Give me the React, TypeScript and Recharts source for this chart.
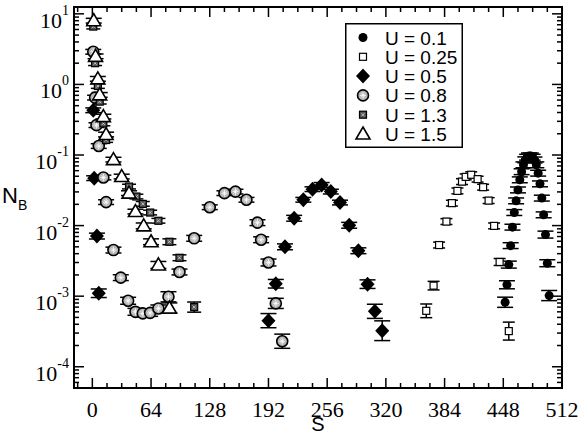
import React from 'react'
import { ScatterChart, Scatter, XAxis, YAxis, ErrorBar, Legend, ReferenceArea } from 'recharts'

// S values, N_B values and relative error (%) per series
const S_U01 = [450, 452, 454, 456, 458, 460, 462, 464, 466, 468, 470, 472, 474, 476, 478, 480, 482, 484, 486, 488, 490, 492, 494, 496, 498]
const N_U01 = [0.00082, 0.00145, 0.0028, 0.0052, 0.0095, 0.0153, 0.0224, 0.032, 0.0445, 0.058, 0.0726, 0.0855, 0.093, 0.097, 0.097, 0.093, 0.085, 0.0726, 0.0553, 0.039, 0.0245, 0.0142, 0.00745, 0.00293, 0.00102]
const E_U01 = [18, 14, 12, 10, 10, 10, 10, 10, 10, 10, 10, 10, 10, 10, 10, 10, 10, 10, 10, 10, 10, 10, 12, 12, 18]

const S_U025 = [364, 372, 378, 386, 392, 398, 403, 407, 413, 420, 426, 432, 438, 444, 454]
const N_U025 = [0.00062, 0.00141, 0.0053, 0.0114, 0.0208, 0.031, 0.042, 0.049, 0.0525, 0.0455, 0.035, 0.0226, 0.0099, 0.00305, 0.00032]
const E_U025 = [25, 15, 10, 10, 10, 10, 10, 10, 10, 10, 10, 10, 10, 12, 34]

const S_U05 = [1, 2, 5, 7, 192, 200, 210, 220, 230, 240, 250, 260, 270, 280, 290, 300, 308, 316]
const N_U05 = [0.43, 0.047, 0.0071, 0.0011, 0.00045, 0.0015, 0.005, 0.0127, 0.0232, 0.0328, 0.0377, 0.0303, 0.0212, 0.0101, 0.0044, 0.00148, 0.00061, 0.000324]
const E_U05 = [8, 8, 10, 15, 26, 15, 10, 10, 8, 8, 8, 8, 8, 10, 10, 15, 26, 38]

const S_U08 = [1, 3, 4.5, 7, 12, 15, 23, 31, 39, 47, 55, 63, 72, 83, 95, 111, 128, 144, 156, 168, 180, 184, 192, 200, 207]
const N_U08 = [2.9, 0.65, 0.265, 0.134, 0.048, 0.0215, 0.0045, 0.00183, 0.00086, 0.0006, 0.00057, 0.00058, 0.00067, 0.00098, 0.0022, 0.0066, 0.0182, 0.0288, 0.0303, 0.0232, 0.011, 0.0063, 0.003, 0.00079, 0.00023]
const E_U08 = [8, 8, 8, 8, 8, 8, 10, 10, 12, 12, 12, 12, 12, 18, 10, 10, 8, 8, 8, 8, 10, 10, 12, 18, 26]

const S_U13 = [1, 3, 6, 8, 12, 15, 40, 48, 55, 63, 72, 84, 95, 111]
const N_U13 = [6.6, 2.0, 0.95, 0.57, 0.28, 0.163, 0.0357, 0.0258, 0.0203, 0.0153, 0.0117, 0.0059, 0.0035, 0.0007]
const E_U13 = [8, 8, 8, 8, 8, 8, 8, 8, 8, 8, 8, 10, 10, 18]

const S_U15 = [1.5, 3.5, 6, 8, 12, 15, 23, 32, 40, 47, 56, 64, 72, 84]
const N_U15 = [8.0, 2.5, 1.2, 0.71, 0.35, 0.195, 0.086, 0.0495, 0.0288, 0.0158, 0.0099, 0.0059, 0.00277, 0.00068]
const E_U15 = [8, 8, 8, 8, 8, 8, 8, 8, 8, 8, 10, 10, 12, 18]

const X_TICKS = [-16, 0, 16, 32, 48, 64, 80, 96, 112, 128, 144, 160, 176, 192, 208, 224, 240, 256, 272, 288, 304, 320, 336, 352, 368, 384, 400, 416, 432, 448, 464, 480, 496, 512]
const Y_DECADES = [-5, -4, -3, -2, -1, 0, 1]
const Y_MINOR_MULT = [1, 2, 3, 4, 5, 6, 7, 8, 9]
const X_DOMAIN: [number, number] = [-20, 512]
const Y_DOMAIN: [number, number] = [5e-5, 12.5]
const Y_TICKS = Y_DECADES.flatMap((k) => Y_MINOR_MULT.map((m) => m * Math.pow(10, k))).filter(
  (v) => v >= Y_DOMAIN[0] * 0.999 && v <= Y_DOMAIN[1],
)

const rows = (s: number[], n: number[], e: number[]) =>
  s.map((x, i) => {
    const f = 1 + e[i] / 100
    return { s: x, n: n[i], err: [n[i] - n[i] / f, n[i] * f - n[i]] }
  })

// chart box
const W = 581
const H = 433
const M_TOP = 7
const M_RIGHT = 19
const X_AXIS_H = 45
const Y_AXIS_W = 74
const PLOT_TOP = M_TOP
const PLOT_RIGHT = W - M_RIGHT

const SERIF = 'Liberation Serif, Times New Roman, serif'
const SANS = 'Liberation Sans, Arial, Helvetica, sans-serif'

const DotMark = ({ cx, cy }: any) => <circle cx={cx} cy={cy} r={4.5} fill="#000" />
const OpenSquareMark = ({ cx, cy }: any) => (
  <rect x={cx - 3.5} y={cy - 3.5} width={7} height={7} fill="#fff" stroke="#000" strokeWidth={1.2} />
)
const DiamondMark = ({ cx, cy }: any) => (
  <polygon points={`${cx},${cy - 7.5} ${cx + 7},${cy} ${cx},${cy + 7.5} ${cx - 7},${cy}`} fill="#000" />
)
const HatchCircleMark = ({ cx, cy }: any) => (
  <g>
    <circle cx={cx} cy={cy} r={5.5} fill="#b4b4b4" stroke="#000" strokeWidth={1.6} />
    <path
      d={`M${cx - 3},${cy} L${cx + 3},${cy} M${cx},${cy - 3.5} L${cx},${cy + 3.5} M${cx - 2},${cy - 2} L${cx + 2},${cy + 2} M${cx - 2},${cy + 2} L${cx + 2},${cy - 2}`}
      stroke="#fff"
      strokeWidth={0.8}
    />
  </g>
)
const HatchSquareMark = ({ cx, cy }: any) => (
  <g>
    <rect x={cx - 3.5} y={cy - 3.5} width={7} height={7} fill="#555" stroke="#000" strokeWidth={1.2} />
    <path d={`M${cx - 1.5},${cy - 1.5} L${cx + 1.5},${cy + 1.5} M${cx - 1.5},${cy + 1.5} L${cx + 1.5},${cy - 1.5}`} stroke="#ddd" strokeWidth={0.8} />
  </g>
)
const TriangleMark = ({ cx, cy }: any) => (
  <polygon
    points={`${cx},${cy - 7} ${cx + 7},${cy + 5} ${cx - 7},${cy + 5}`}
    fill="#fff"
    stroke="#000"
    strokeWidth={1.6}
  />
)

const SERIES = [
  { name: 'U = 0.1', data: rows(S_U01, N_U01, E_U01), shape: DotMark, cap: 8 },
  { name: 'U = 0.25', data: rows(S_U025, N_U025, E_U025), shape: OpenSquareMark, cap: 6 },
  { name: 'U = 0.5', data: rows(S_U05, N_U05, E_U05), shape: DiamondMark, cap: 8 },
  { name: 'U = 0.8', data: rows(S_U08, N_U08, E_U08), shape: HatchCircleMark, cap: 8 },
  { name: 'U = 1.3', data: rows(S_U13, N_U13, E_U13), shape: HatchSquareMark, cap: 7 },
  { name: 'U = 1.5', data: rows(S_U15, N_U15, E_U15), shape: TriangleMark, cap: 8 },
]

const isMajorX = (v: number) => v % 64 === 0
const isMajorY = (v: number) => Math.abs(Math.log10(v) - Math.round(Math.log10(v))) < 1e-6

// bottom tick, with its mirror on the top frame
const BottomTick = ({ x, y, payload }: any) => {
  const major = isMajorX(payload.value)
  const len = major ? 10 : 5
  return (
    <g>
      <line x1={x} y1={y} x2={x} y2={y - len} stroke="#000" strokeWidth={1.5} />
      <line x1={x} y1={PLOT_TOP} x2={x} y2={PLOT_TOP + len} stroke="#000" strokeWidth={1.5} />
      {major && (
        <text x={x} y={y + 29} textAnchor="middle" fontFamily={SERIF} fontSize={22} fill="#000">
          {payload.value}
        </text>
      )}
    </g>
  )
}

// left tick, with its mirror on the right frame
const LeftTick = ({ x, y, payload }: any) => {
  const major = isMajorY(payload.value)
  const len = major ? 10 : 5
  const exp = Math.round(Math.log10(payload.value))
  return (
    <g>
      <line x1={x} y1={y} x2={x + len} y2={y} stroke="#000" strokeWidth={1.5} />
      <line x1={PLOT_RIGHT} y1={y} x2={PLOT_RIGHT - len} y2={y} stroke="#000" strokeWidth={1.5} />
      {major && (
        <text x={x - 5} y={y + 14} textAnchor="end" fontFamily={SERIF} fontSize={22} fill="#000">
          <tspan>10</tspan>
          <tspan dy={-13} fontSize={14}>
            {exp}
          </tspan>
        </text>
      )}
    </g>
  )
}

const LegendBox = () => (
  <svg width={118} height={125} style={{ display: 'block' }}>
    <rect x={0.75} y={0.75} width={116.5} height={123.5} fill="#fff" stroke="#000" strokeWidth={1.5} />
    {SERIES.map((s, i) => {
      const cy = 14.5 + i * 19.3
      const Mark = s.shape
      return (
        <g key={s.name}>
          <Mark cx={18} cy={cy} />
          <text x={40} y={cy + 7} fontFamily={SANS} fontSize={19} fill="#000">
            {s.name}
          </text>
        </g>
      )
    })}
  </svg>
)

export default function App() {
  const axisLine = { stroke: '#000', strokeWidth: 2 }
  return (
    <div style={{ position: 'absolute', left: 0, top: 0, width: W, height: H, background: '#fff' }}>
      <ScatterChart width={W} height={H} margin={{ top: M_TOP, right: M_RIGHT, bottom: 0, left: 0 }}>
        {/* plot frame */}
        <ReferenceArea
          x1={X_DOMAIN[0]}
          x2={X_DOMAIN[1]}
          y1={Y_DOMAIN[0]}
          y2={Y_DOMAIN[1]}
          fill="none"
          fillOpacity={0}
          stroke="#000"
          strokeWidth={2}
          ifOverflow="visible"
        />
        <XAxis
          dataKey="s"
          type="number"
          domain={X_DOMAIN}
          ticks={X_TICKS}
          interval={0}
          allowDataOverflow
          height={X_AXIS_H}
          tickSize={0}
          tickMargin={0}
          tickLine={false}
          axisLine={axisLine}
          tick={(p: any) => <BottomTick {...p} />}
          label={(p: any) => {
            const vb = p.viewBox
            return (
              <g>
                <path
                  d={`M${vb.x},${PLOT_TOP} L${vb.x + vb.width},${PLOT_TOP} L${vb.x + vb.width},${vb.y}`}
                  fill="none"
                  stroke="#000"
                  strokeWidth={2}
                />
                <text x={vb.x + vb.width / 2} y={vb.y + 43} textAnchor="middle" fontFamily={SANS} fontSize={20} fill="#000">
                  S
                </text>
              </g>
            )
          }}
        />
        <YAxis
          dataKey="n"
          scale="log"
          domain={Y_DOMAIN}
          ticks={Y_TICKS}
          interval={0}
          allowDataOverflow
          width={Y_AXIS_W}
          tickSize={0}
          tickMargin={0}
          tickLine={false}
          axisLine={axisLine}
          tick={(p: any) => <LeftTick {...p} />}
          label={(p: any) => {
            const vb = p.viewBox
            return (
              <text x={2} y={vb.y + 196} fontFamily={SANS} fontSize={22} fill="#000">
                N
                <tspan dy={7} fontSize={14}>
                  B
                </tspan>
              </text>
            )
          }}
        />
        {SERIES.map((s) => (
          <Scatter key={s.name} name={s.name} data={s.data} shape={s.shape} isAnimationActive={false}>
            <ErrorBar dataKey="err" direction="y" width={s.cap} stroke="#000" strokeWidth={1.5} />
          </Scatter>
        ))}
        <Legend
          layout="vertical"
          align="center"
          verticalAlign="middle"
          wrapperStyle={{ position: 'absolute', left: 345, top: 23, width: 118, height: 125 }}
          content={() => <LegendBox />}
        />
      </ScatterChart>
    </div>
  )
}
